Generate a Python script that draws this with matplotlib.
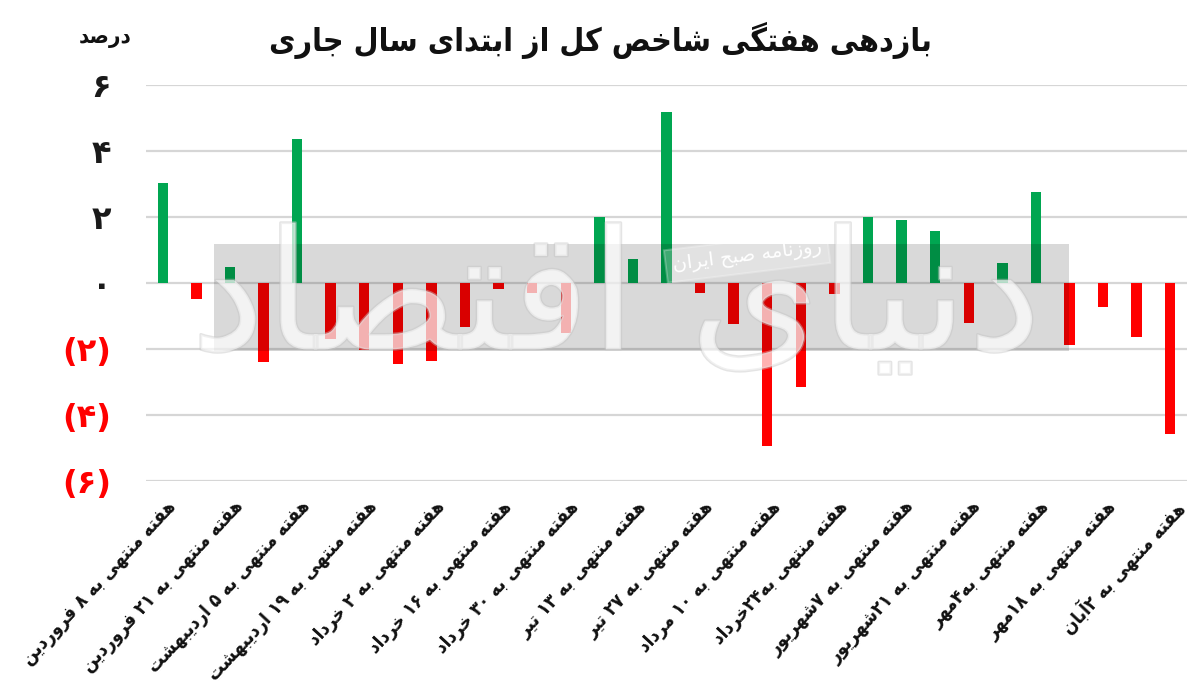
import matplotlib
matplotlib.use("Agg")
import matplotlib.pyplot as plt
import matplotlib.patheffects as pe
from matplotlib.patches import Rectangle
from matplotlib.font_manager import FontProperties

# ---------------- data ----------------
values = [3.02, -0.47, 0.47, -2.38, 4.35, -1.69, -2.02, -2.46, -2.35, -1.33,
          -0.18, -0.30, -1.52, 2.01, 0.73, 5.17, -0.30, -1.25, -4.93, -3.16,
          -0.32, 1.99, 1.92, 1.57, -1.21, 0.62, 2.76, -1.87, -0.72, -1.63, -4.59]
tick_labels = ["هفته منتهی به ۸ فروردین", "هفته منتهی به ۲۱ فروردین",
               "هفته منتهی به ۵ اردیبهشت", "هفته منتهی به ۱۹ اردیبهشت",
               "هفته منتهی به ۲ خرداد", "هفته منتهی به ۱۶ خرداد",
               "هفته منتهی به ۳۰ خرداد", "هفته منتهی به ۱۳ تیر",
               "هفته منتهی به ۲۷ تیر", "هفته منتهی به ۱۰ مرداد",
               "هفته منتهی به۲۴خرداد", "هفته منتهی به ۷شهریور",
               "هفته منتهی به ۲۱شهریور", "هفته منتهی به۴مهر",
               "هفته منتهی به ۱۸مهر", "هفته منتهی به ۲آبان"]
yticks = [6, 4, 2, 0, -2, -4, -6]
ytick_text = ["۶", "۴", "۲", "۰", "(۲)", "(۴)", "(۶)"]
title = "بازدهی هفتگی شاخص کل از ابتدای سال جاری"
unit = "درصد"
watermark_small = "روزنامه صبح ایران"
watermark_big = "دنیای اقتصاد"

# ---------------- minimal Persian shaping ----------------
FORMS = {  # iso, fin, ini, med
    'ا': (0xFE8D, 0xFE8E, None, None), 'آ': (0xFE81, 0xFE82, None, None),
    'ب': (0xFE8F, 0xFE90, 0xFE91, 0xFE92), 'پ': (0xFB56, 0xFB57, 0xFB58, 0xFB59),
    'ت': (0xFE95, 0xFE96, 0xFE97, 0xFE98), 'ث': (0xFE99, 0xFE9A, 0xFE9B, 0xFE9C),
    'ج': (0xFE9D, 0xFE9E, 0xFE9F, 0xFEA0), 'چ': (0xFB7A, 0xFB7B, 0xFB7C, 0xFB7D),
    'ح': (0xFEA1, 0xFEA2, 0xFEA3, 0xFEA4), 'خ': (0xFEA5, 0xFEA6, 0xFEA7, 0xFEA8),
    'د': (0xFEA9, 0xFEAA, None, None), 'ذ': (0xFEAB, 0xFEAC, None, None),
    'ر': (0xFEAD, 0xFEAE, None, None), 'ز': (0xFEAF, 0xFEB0, None, None),
    'ژ': (0xFB8A, 0xFB8B, None, None),
    'س': (0xFEB1, 0xFEB2, 0xFEB3, 0xFEB4), 'ش': (0xFEB5, 0xFEB6, 0xFEB7, 0xFEB8),
    'ص': (0xFEB9, 0xFEBA, 0xFEBB, 0xFEBC), 'ض': (0xFEBD, 0xFEBE, 0xFEBF, 0xFEC0),
    'ط': (0xFEC1, 0xFEC2, 0xFEC3, 0xFEC4), 'ظ': (0xFEC5, 0xFEC6, 0xFEC7, 0xFEC8),
    'ع': (0xFEC9, 0xFECA, 0xFECB, 0xFECC), 'غ': (0xFECD, 0xFECE, 0xFECF, 0xFED0),
    'ف': (0xFED1, 0xFED2, 0xFED3, 0xFED4), 'ق': (0xFED5, 0xFED6, 0xFED7, 0xFED8),
    'ک': (0xFB8E, 0xFB8F, 0xFB90, 0xFB91), 'گ': (0xFB92, 0xFB93, 0xFB94, 0xFB95),
    'ل': (0xFEDD, 0xFEDE, 0xFEDF, 0xFEE0), 'م': (0xFEE1, 0xFEE2, 0xFEE3, 0xFEE4),
    'ن': (0xFEE5, 0xFEE6, 0xFEE7, 0xFEE8), 'ه': (0xFEE9, 0xFEEA, 0xFEEB, 0xFEEC),
    'و': (0xFEED, 0xFEEE, None, None),
    'ی': (0xFBFC, 0xFBFD, 0xFBFE, 0xFBFF),
}
DIGITS = set("۰۱۲۳۴۵۶۷۸۹0123456789")


def shape(text):
    chars = list(text)
    out = []
    n = len(chars)
    for i, c in enumerate(chars):
        if c not in FORMS:
            out.append(c)
            continue
        prev = chars[i - 1] if i > 0 else None
        nxt = chars[i + 1] if i < n - 1 else None
        jp = prev in FORMS and FORMS[prev][2] is not None
        jn = FORMS[c][2] is not None and nxt in FORMS
        iso, fin, ini, med = FORMS[c]
        if jp and jn:
            cp = med
        elif jp:
            cp = fin
        elif jn:
            cp = ini
        else:
            cp = iso
        out.append(chr(cp))
    rev = out[::-1]
    res, run = [], []
    for ch in rev:
        if ch in DIGITS:
            run.append(ch)
        else:
            if run:
                res.extend(run[::-1])
                run = []
            res.append(ch)
    if run:
        res.extend(run[::-1])
    return "".join(res)


def fp(size, stretch='condensed', weight='bold'):
    return FontProperties(family='DejaVu Sans', weight=weight, stretch=stretch, size=size)


# ---------------- figure ----------------
plt.rcParams['font.family'] = ['DejaVu Sans']
fig = plt.figure(figsize=(12, 6.91), dpi=100)
ax = fig.add_axes([146 / 1200, 1 - 481 / 691, (1187 - 146) / 1200, (481 - 85) / 691])

GREEN = "#00a651"
RED = "#ff0000"
x = list(range(len(values)))
colors = [GREEN if v >= 0 else RED for v in values]
ax.bar(x, values, width=0.31, color=colors, zorder=3)

ax.set_xlim(-0.5, len(values) - 0.5)
ax.set_ylim(-6, 6)
for s in ax.spines.values():
    s.set_visible(False)
ax.set_yticks(yticks)
ax.yaxis.grid(True, color="#d6d6d6", lw=1.6, zorder=0)
ax.set_axisbelow(True)
ax.set_yticklabels(ytick_text)
for lab, v in zip(ax.get_yticklabels(), yticks):
    lab.set_fontproperties(fp(23, stretch='normal'))
    lab.set_color('#1a1a1a' if v >= 0 else RED)
ax.tick_params(axis='y', length=0, pad=25)
ax.set_xticks([])

# rotated x labels
for k, lab in enumerate(tick_labels):
    ax.text(2 * k + 0.1, -6.5, shape(lab), rotation=47, ha='right', va='top',
            rotation_mode='anchor', fontproperties=fp(13.5), color='#111111')

# watermark: grey band
ax.add_patch(Rectangle((1.52, -2.06), 27.0 - 1.52, 1.17 + 2.06, facecolor='black',
                       alpha=0.15, edgecolor='none', zorder=4))
# big calligraphic watermark (faint outline)
ax.text(13.5, -0.6, shape(watermark_big), fontproperties=fp(120, stretch='normal', weight='normal'),
        color='white', alpha=0.45, ha='center', va='center', zorder=5,
        path_effects=[pe.withStroke(linewidth=2.0, foreground='#c4c4c4')])
# small newspaper box
ax.text(17.4, 0.8, shape(watermark_small), fontproperties=fp(14, stretch='normal', weight='normal'),
        color='white', rotation=7, ha='center', va='center', zorder=6,
        bbox=dict(boxstyle='square,pad=0.35', facecolor='white', alpha=0.25,
                  edgecolor='white', lw=1.5))

# title and unit
fig.text(0.5, 1 - 40 / 691, shape(title), ha='center', va='center',
         fontproperties=fp(23), color='#111111')
fig.text(105 / 1200, 1 - 38 / 691, shape(unit), ha='center', va='center',
         fontproperties=fp(16), color='#111111')

fig.savefig("out.png", dpi=100, facecolor='white')
